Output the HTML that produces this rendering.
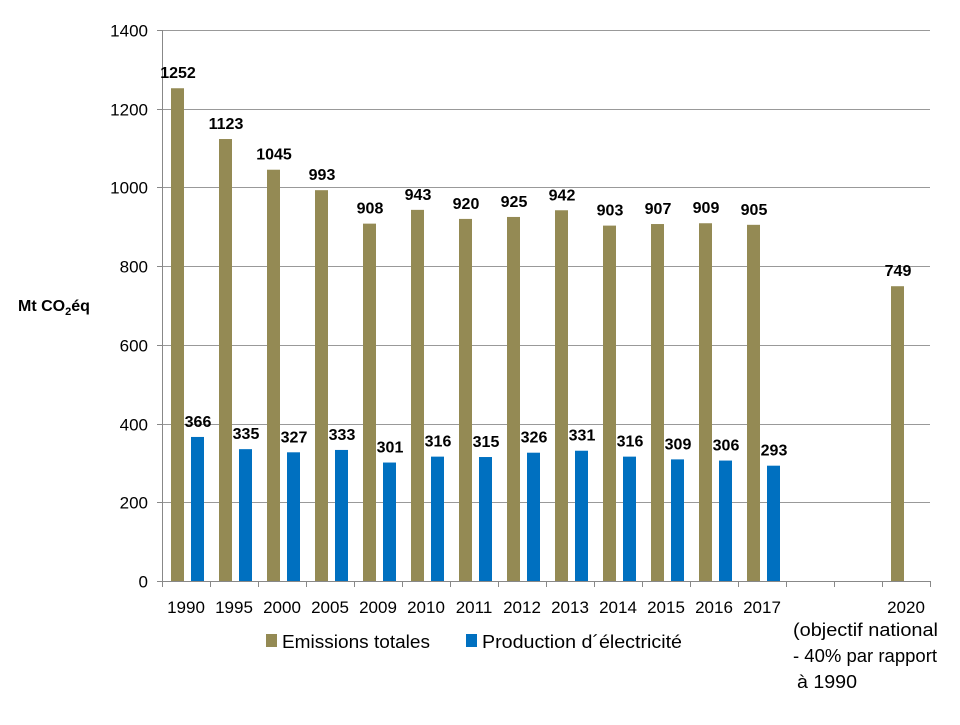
<!DOCTYPE html>
<html><head><meta charset="utf-8"><style>
html,body{margin:0;padding:0;background:#fff;}
svg text{font-family:"Liberation Sans Narrow","Liberation Sans",sans-serif;}
</style></head><body>
<svg width="960" height="720" xmlns="http://www.w3.org/2000/svg">
<g id="grid" stroke="#888" stroke-width="1"></g>
<g id="bars"></g>
<g id="labels"></g>
<text x="18" y="311" font-weight="bold" font-size="16" fill="#000">Mt CO<tspan font-size="11" dy="4">2</tspan><tspan dy="-4">éq</tspan></text>
<rect x="266" y="634" width="11" height="13" fill="#948A54"/>
<text x="282" y="648" font-size="18" textLength="148" lengthAdjust="spacingAndGlyphs">Emissions totales</text>
<rect x="466" y="634" width="11" height="13" fill="#0070C0"/>
<text x="482" y="648" font-size="18" textLength="200" lengthAdjust="spacingAndGlyphs">Production d´électricité</text>
<text x="793" y="636" font-size="18" textLength="145" lengthAdjust="spacingAndGlyphs">(objectif national</text>
<text x="793" y="662" font-size="18" textLength="144" lengthAdjust="spacingAndGlyphs">- 40% par rapport</text>
<text x="797" y="688" font-size="18" textLength="60" lengthAdjust="spacingAndGlyphs">à 1990</text>
<script>
var ns="http://www.w3.org/2000/svg";
function el(p,t,a,txt){var e=document.createElementNS(ns,t);for(var k in a)e.setAttribute(k,a[k]);if(txt!==undefined)e.textContent=txt;document.getElementById(p).appendChild(e);return e;}
var x0=162,x1=930,y0=581,sc=551/1400,cw=48;
for(var v=0;v<=1400;v+=200){var y=Math.round(y0-v*sc)+0.5;
 el("grid","line",{x1:x0,x2:x1,y1:y,y2:y,stroke:v==0?"#888":"#999"});
 el("grid","line",{x1:x0-5,x2:x0,y1:y,y2:y});
 el("labels","text",{x:148,y:y+6,"text-anchor":"end","font-size":"17"},v);}
el("grid","line",{x1:x0+0.5,x2:x0+0.5,y1:30,y2:y0});
for(var i=0;i<=16;i++){var x=x0+i*cw+0.5;el("grid","line",{x1:x,x2:x,y1:y0,y2:y0+6});}
var yrs=["1990","1995","2000","2005","2009","2010","2011","2012","2013","2014","2015","2016","2017"];
var tot=[1252,1123,1045,993,908,943,920,925,942,903,907,909,905];
var ele=[366,335,327,333,301,316,315,326,331,316,309,306,293];
function cat(i,lab,t,e){var cs=x0+i*cw;
 el("labels","text",{x:cs+cw/2,y:613,"text-anchor":"middle","font-size":"17"},lab);
 if(t!=null){var h=t*sc;el("bars","rect",{x:cs+9,y:y0-h,width:13,height:h,fill:"#948A54"});
  el("labels","text",{x:cs+16,y:y0-h-10,"text-anchor":"middle","font-size":"16","font-weight":"bold"},t);}
 if(e!=null){var h2=e*sc;el("bars","rect",{x:cs+29,y:y0-h2,width:13,height:h2,fill:"#0070C0"});
  el("labels","text",{x:cs+36,y:y0-h2-10,"text-anchor":"middle","font-size":"16","font-weight":"bold"},e);}}
for(var i=0;i<13;i++)cat(i,yrs[i],tot[i],ele[i]);
cat(15,"2020",749,null);
</script>
</svg>
</body></html>
